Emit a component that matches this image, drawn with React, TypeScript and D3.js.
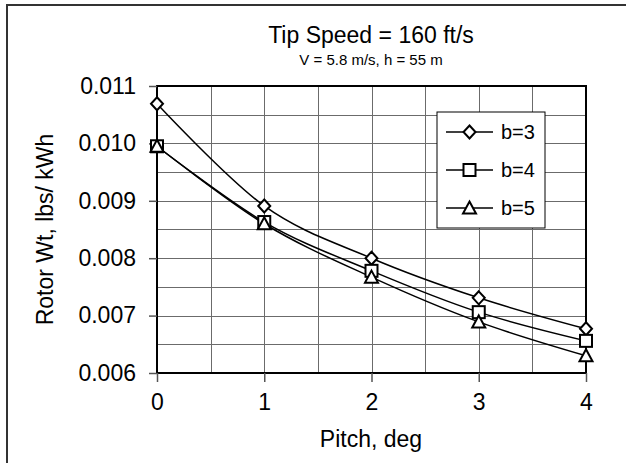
import React, { useEffect, useRef } from 'react';
import * as d3 from 'd3';

const pitch = [0, 1, 2, 3, 4];
const seriesNames = ['b=3', 'b=4', 'b=5'];
const markerKinds = ['diamond', 'square', 'triangle'];
const b3 = [0.01069, 0.00891, 0.0080, 0.00731, 0.00677];
const b4 = [0.00995, 0.00863, 0.00778, 0.00706, 0.00656];
const b5 = [0.00995, 0.0086, 0.00767, 0.00689, 0.0063];
const yTicks = [0.006, 0.007, 0.008, 0.009, 0.010, 0.011];
const xTicks = [0, 1, 2, 3, 4];

const FONT = '"Liberation Sans", Arial, sans-serif';

const App = () => {
  const svgRef = useRef<SVGSVGElement>(null);

  useEffect(() => {
    const svg = d3.select(svgRef.current);
    svg.selectAll('*').remove();

    const left = 157, right = 586, top = 86, bottom = 373;

    const x = d3.scaleLinear().domain([0, 4]).range([left, right]);
    const y = d3.scaleLinear().domain([0.006, 0.011]).range([bottom, top]);

    // outer frame (only left/top visible in the picture)
    svg.append('rect')
      .attr('x', 7).attr('y', 5).attr('width', 700).attr('height', 600)
      .attr('fill', 'white').attr('stroke', '#333').attr('stroke-width', 2);

    // grid
    const grid = svg.append('g').attr('stroke', '#6b6b6b').attr('stroke-width', 1);
    d3.range(0.5, 4, 0.5).forEach(v => {
      grid.append('line')
        .attr('x1', Math.round(x(v)) + 0.5).attr('x2', Math.round(x(v)) + 0.5)
        .attr('y1', top).attr('y2', bottom);
    });
    d3.range(0.0065, 0.011, 0.0005).forEach(v => {
      grid.append('line')
        .attr('x1', left).attr('x2', right)
        .attr('y1', Math.round(y(v)) + 0.5).attr('y2', Math.round(y(v)) + 0.5);
    });

    // plot border
    svg.append('rect')
      .attr('x', left).attr('y', top).attr('width', right - left).attr('height', bottom - top)
      .attr('fill', 'none').attr('stroke', '#000').attr('stroke-width', 2);

    // y axis ticks + labels
    const yAxis = svg.append('g')
      .attr('transform', `translate(${left},0)`)
      .call(d3.axisLeft(y).tickValues(yTicks).tickSize(8).tickPadding(13).tickFormat(d3.format('.3f')));
    yAxis.select('.domain').remove();
    yAxis.selectAll('line').attr('stroke', '#555').attr('stroke-width', 1.5);
    yAxis.selectAll('text')
      .attr('font-family', FONT).attr('font-size', 23).attr('fill', '#000');

    // x axis ticks + labels
    const xAxis = svg.append('g')
      .attr('transform', `translate(0,${bottom})`)
      .call(d3.axisBottom(x).tickValues(xTicks).tickSize(9).tickPadding(12).tickFormat(d3.format('d')));
    xAxis.select('.domain').remove();
    xAxis.selectAll('line').attr('stroke', '#555').attr('stroke-width', 1.5);
    xAxis.selectAll('text')
      .attr('font-family', FONT).attr('font-size', 23).attr('fill', '#000');

    // titles
    svg.append('text')
      .attr('x', 371).attr('y', 43)
      .attr('text-anchor', 'middle').attr('font-family', FONT).attr('font-size', 23)
      .text('Tip Speed = 160 ft/s');
    svg.append('text')
      .attr('x', 371).attr('y', 65)
      .attr('text-anchor', 'middle').attr('font-family', FONT).attr('font-size', 15)
      .text('V = 5.8 m/s, h = 55 m');
    svg.append('text')
      .attr('x', 371).attr('y', 447)
      .attr('text-anchor', 'middle').attr('font-family', FONT).attr('font-size', 23)
      .text('Pitch, deg');
    svg.append('text')
      .attr('transform', `translate(53,${(top + bottom) / 2}) rotate(-90)`)
      .attr('text-anchor', 'middle').attr('font-family', FONT).attr('font-size', 23)
      .text('Rotor Wt, lbs/ kWh');

    const drawMarker = (g, kind, cx, cy) => {
      if (kind === 'diamond') {
        g.append('path')
          .attr('d', `M${cx},${cy - 6.5}L${cx + 6},${cy}L${cx},${cy + 6.5}L${cx - 6},${cy}Z`)
          .attr('fill', 'white').attr('stroke', '#000').attr('stroke-width', 2);
      } else if (kind === 'square') {
        g.append('rect')
          .attr('x', cx - 6).attr('y', cy - 6).attr('width', 12).attr('height', 12)
          .attr('fill', 'white').attr('stroke', '#000').attr('stroke-width', 2);
      } else {
        g.append('path')
          .attr('d', `M${cx},${cy - 6.5}L${cx + 6.5},${cy + 5.5}L${cx - 6.5},${cy + 5.5}Z`)
          .attr('fill', 'white').attr('stroke', '#000').attr('stroke-width', 2);
      }
    };

    const line = d3.line<number>()
      .x((_, i) => x(pitch[i]))
      .y(d => y(d))
      .curve(d3.curveCatmullRom.alpha(0));

    const series = [b3, b4, b5];
    series.forEach((vals) => {
      svg.append('path')
        .attr('d', line(vals))
        .attr('fill', 'none').attr('stroke', '#000').attr('stroke-width', 1.5);
    });
    series.forEach((vals, si) => {
      const g = svg.append('g');
      vals.forEach((v, i) => drawMarker(g, markerKinds[si], x(pitch[i]), y(v)));
    });

    // legend
    const lg = svg.append('g');
    lg.append('rect')
      .attr('x', 437).attr('y', 112).attr('width', 108).attr('height', 116)
      .attr('fill', 'white').attr('stroke', '#000').attr('stroke-width', 1);
    seriesNames.forEach((name, i) => {
      const cy = 132 + i * 38;
      lg.append('line')
        .attr('x1', 446).attr('x2', 493).attr('y1', cy).attr('y2', cy)
        .attr('stroke', '#000').attr('stroke-width', 1.5);
      drawMarker(lg, markerKinds[i], 469.5, cy);
      lg.append('text')
        .attr('x', 501).attr('y', cy + 7)
        .attr('font-family', FONT).attr('font-size', 20)
        .text(name);
    });
  }, []);

  return (
    <svg
      ref={svgRef}
      width={626}
      height={463}
      style={{ position: 'absolute', left: 0, top: 0, background: 'white' }}
    />
  );
};

export default App;
